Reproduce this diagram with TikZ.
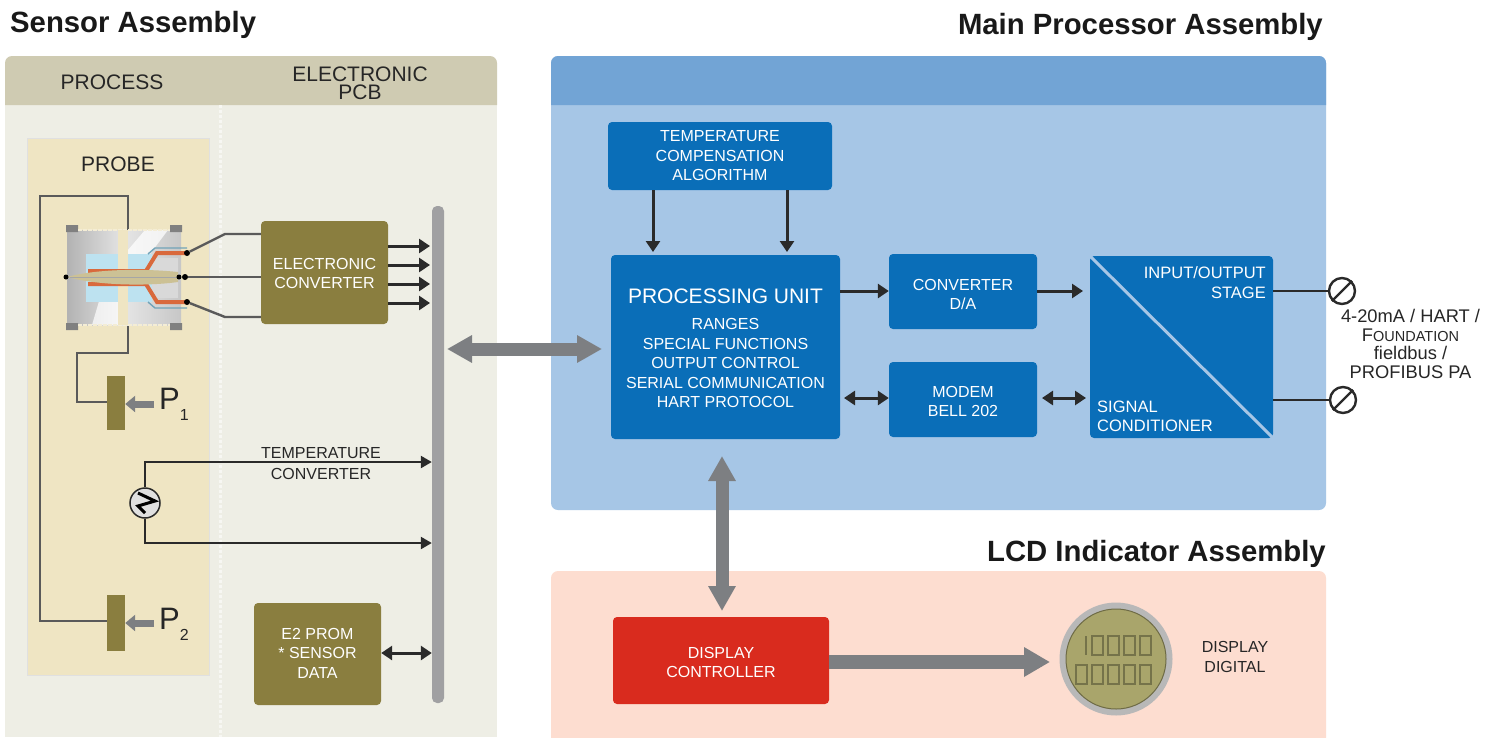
\documentclass[tikz,border=0pt]{standalone}
\usepackage{fontspec}
\setmainfont{Liberation Sans}
\usetikzlibrary{arrows.meta,calc}
\definecolor{hdrtan}{HTML}{CFCBB2}
\definecolor{sensbg}{HTML}{EEEEE5}
\definecolor{probebg}{HTML}{EFE5C3}
\definecolor{mainbg}{HTML}{A6C6E6}
\definecolor{mainhdr}{HTML}{72A4D5}
\definecolor{lcdbg}{HTML}{FDDDD0}
\definecolor{boxblue}{HTML}{0A6EB8}
\definecolor{olive}{HTML}{8A7E3F}
\definecolor{redbox}{HTML}{D92B1E}
\definecolor{busgray}{HTML}{A0A0A2}
\definecolor{biggray}{HTML}{7D7F82}
\definecolor{dark}{HTML}{2A2A2A}
\definecolor{tube}{HTML}{5A5A5A}
\definecolor{copper}{HTML}{D9693C}
\definecolor{lcdface}{HTML}{A9A56B}
\definecolor{lcdseg}{HTML}{75734A}
\newcommand{\fs}[2]{\fontsize{#1}{#2}\selectfont}
\tikzset{
  title/.style={font=\fs{29.3}{32}\bfseries,text=black!90,inner sep=0pt},
  hdr/.style={font=\fs{21}{18},text=black!85,align=center,inner sep=0pt},
  box/.style={rounded corners=4pt,inner sep=0pt,align=center,text=white,font=\fs{16}{19.5}},
  bluebox/.style={box,fill=boxblue},
  olivebox/.style={box,fill=olive},
  redbx/.style={box,fill=redbox},
  plain/.style={inner sep=0pt,align=center,text=black!85,font=\fs{16}{20}},
  whitetxt/.style={inner sep=0pt,text=white,font=\fs{16.5}{19.5}},
  arr/.style={draw=dark,line width=3pt,-{Triangle[length=11pt,width=14pt]}},
  thinarr/.style={draw=dark,line width=2.4pt,-{Triangle[length=11pt,width=12pt]}},
  darr/.style={draw=dark,line width=3pt,{Triangle[length=11pt,width=14pt]}-{Triangle[length=11pt,width=14pt]}},
  bigboth/.style={draw=biggray,line width=13pt,{Triangle[length=25pt,width=26pt]}-{Triangle[length=25pt,width=26pt]}},
  bigone/.style={draw=biggray,line width=14pt,-{Triangle[length=26pt,width=28pt]}},
  smallgray/.style={draw=biggray,line width=7pt,-{Triangle[length=10pt,width=16pt]}},
  tubeline/.style={draw=tube,line width=2.4pt},
  dot/.style={circle,fill=black,inner sep=0pt,minimum size=6pt},
  screw/.style={circle,draw=dark,line width=2.4pt,minimum size=26pt,inner sep=0pt},
  seg/.style={draw=lcdseg,line width=1.8pt},
}
\begin{document}
\begin{tikzpicture}[x=1pt,y=-1pt]
\useasboundingbox (0,0) rectangle (1496,737);
\fill[white] (0,0) rectangle (1496,737);
% panels
\fill[sensbg] (5,100) rectangle (497,737);
\fill[hdrtan] (5,105) [rounded corners=7pt] -- (5,56) -- (497,56) [sharp corners] -- (497,105) -- cycle;
\draw[white!55!sensbg,line width=3pt,dash pattern=on 3pt off 2pt] (220,105) -- (220,737);
\fill[mainbg,rounded corners=7pt] (551,56) rectangle (1326,510);
\fill[mainhdr] (551,105) [rounded corners=7pt] -- (551,56) -- (1326,56) [sharp corners] -- (1326,105) -- cycle;
\fill[lcdbg,rounded corners=7pt] (551,571) -- (1326,571) -- (1326,760) -- (551,760) -- cycle;
\fill[probebg,draw=black!12,line width=0.8pt] (27,138) rectangle (209,675);
% titles
\node[title,anchor=west] (tsens) at (10,25) {Sensor Assembly};
\node[title,anchor=east] (tmain) at (1323,27) {Main Processor Assembly};
\node[title,anchor=east] (tlcd) at (1326,554) {LCD Indicator Assembly};
\node[hdr] (hproc) at (112,82) {PROCESS};
\node[hdr] (hpcb) at (360,83) {ELECTRONIC\\PCB};
\node[hdr] (hprobe) at (118,164) {PROBE};
% probe tubing (under the sensor)
\coordinate (st) at (128,232);
\coordinate (sb) at (128,323);
\node[fill=olive,minimum width=18pt,minimum height=54pt,inner sep=0pt] (p1) at (116,403) {};
\node[fill=olive,minimum width=18pt,minimum height=56pt,inner sep=0pt] (p2) at (116,623) {};
\draw[tubeline] (st) |- (40,196) |- (p2.west |- 0,621);
\draw[tubeline] (sb) |- (77,353) |- (p1.west |- 0,402);
% sensor cell
\shade[left color=black!30,right color=black!22,middle color=black!10] (67,230) rectangle (181,325);
\fill[white,opacity=.7] (92,325) -- (118,325) -- (118,298) -- (100,298) -- cycle;
\fill[white,opacity=.75] (128,254) -- (150,254) -- (168,230) -- (145,230) -- (128,250) -- cycle;
\fill[black!50] (66,225) rectangle (78,232) (170,225) rectangle (182,232) (66,323) rectangle (78,330) (170,323) rectangle (182,330);
\draw[probebg!70!white,line width=2.5pt,dash pattern=on 4pt off 1pt] (78,230) -- (170,230) (78,325) -- (170,325);
\fill[black!15] (152,258) rectangle (178,298);
\fill[cyan!25!white!90!gray] (86,254) rectangle (152,302);
\draw[cyan!40!gray,line width=1.4pt] (148,254) -- (155,248) -- (187,248) (148,302) -- (155,308) -- (187,308);
\fill[probebg] (118,230) rectangle (128,325);
\draw[copper,line width=4pt] (187,253) -- (157,253) -- (146,271) -- (88,271);
\draw[copper,line width=4pt] (187,302) -- (157,302) -- (146,284) -- (88,284);
\fill[olive!35!probebg] (67,277) .. controls (100,268) and (150,269) .. (178,272) -- (178,282) .. controls (150,286) and (100,286) .. (67,277) -- cycle;
\draw[black!35,line width=1pt] (70,277) -- (178,277);
\node[dot] (d1) at (187,253) {};
\node[dot] (d2) at (185,277) {};
\node[dot] (d3) at (187,302) {};
\node[dot,minimum size=5pt] (d0) at (66,277) {};
\node[dot,minimum size=5pt] (d4) at (179,277) {};
% boxes
\node[olivebox,minimum width=127pt,minimum height=103pt] (ec) at (324.5,272.5) {ELECTRONIC\\CONVERTER\vspace{-2pt}};
\node[olivebox,minimum width=127pt,minimum height=102pt] (e2) at (317.5,654) {E2 PROM\\* SENSOR\\DATA\vspace{2pt}};
\node[fill=busgray,rounded corners=5pt,minimum width=12pt,minimum height=497pt,inner sep=0pt] (bus) at (438,454.5) {};
\node[bluebox,minimum width=224pt,minimum height=68pt] (temp) at (720,156) {TEMPERATURE\\COMPENSATION\\ALGORITHM};
\node[bluebox,minimum width=229pt,minimum height=184pt] (pu) at (725.5,347) {{\fs{21}{24}PROCESSING UNIT}\\[7pt]RANGES\\SPECIAL FUNCTIONS\\OUTPUT CONTROL\\SERIAL COMMUNICATION\\HART PROTOCOL\vspace{-2pt}};
\node[bluebox,minimum width=148pt,minimum height=75pt] (conv) at (963,291.5) {CONVERTER\\D/A\vspace{-6pt}};
\node[bluebox,minimum width=148pt,minimum height=75pt] (modem) at (963,399.5) {MODEM\\BELL 202\vspace{-4pt}};
\node[bluebox,minimum width=183pt,minimum height=182pt] (io) at (1181.5,347) {};
\draw[mainbg,line width=3pt] (io.north west) -- (io.south east);
\node[whitetxt,anchor=east,align=right] (iolbl) at (1266,282.5) {INPUT/OUTPUT\\STAGE};
\node[whitetxt,anchor=west,align=left] (siglbl) at (1097,416.5) {SIGNAL\\CONDITIONER};
\node[redbx,minimum width=216pt,minimum height=87pt] (disp) at (721,660.5) {DISPLAY\\CONTROLLER\vspace{-4pt}};
% gauge
\node[circle,fill=black!28,minimum size=113pt,inner sep=0pt] (lcd) at (1116,659) {};
\node[circle,fill=lcdface,draw=lcdface!65!black,line width=1pt,minimum size=100pt,inner sep=0pt] (face) at (1116,659) {};
\foreach \x in {1092,1108,1124,1140}{\draw[seg] (\x,636) rectangle +(11,19);}
\draw[seg] (1086,636) -- (1086,655);
\foreach \x in {1076,1092,1108,1124,1140}{\draw[seg] (\x,665) rectangle +(11,19);}
\node[plain] (dlbl) at (1235,657) {DISPLAY\\DIGITAL};
% P labels
\node[inner sep=0pt,anchor=west,font=\fs{31}{32},text=black!85] (lp1) at (159,404) {P\raisebox{-11pt}{\fs{16}{16}1}};
\node[inner sep=0pt,anchor=west,font=\fs{31}{32},text=black!85] (lp2) at (159,624) {P\raisebox{-11pt}{\fs{16}{16}2}};
\coordinate (a1) at (154,404);
\coordinate (a2) at (154,623);
\draw[smallgray] (a1) -- (p1.east |- a1);
\draw[smallgray] (a2) -- (p2.east |- a2);
% wires to converter
\draw[tubeline] (d1) -- (225,234) -- (ec.west |- 0,234);
\draw[tubeline] (d2) -- (ec.west |- d2);
\draw[tubeline] (d3) -- (225,317) -- (ec.west |- 0,317);
% converter to bus
\foreach \y in {246,265,284,303}{\draw[arr] (ec.east |- 0,\y) -- (430,\y);}
% temperature
\node[circle,draw=dark,line width=1.5pt,fill=black!12,minimum size=30pt,inner sep=0pt] (rtd) at (145,503) {};
\draw[thinarr] (rtd.north) |- (bus.west |- 0,462);
\draw[thinarr] (rtd.south) |- (bus.west |- 0,543);
\draw[black,line width=3pt,line join=miter] (138,493) -- (155,501) -- (138,506) -- (145,513);
\node[plain] (tc) at (321,463.5) {TEMPERATURE\\[1pt]CONVERTER};
\draw[darr] (e2.east |- 0,653) -- (bus.west |- 0,653);
% main connectors
\draw[arr] (temp.south -| 653,0) -- (653,252);
\draw[arr] (temp.south -| 787,0) -- (787,252);
\draw[arr] (pu.east |- 0,291) -- (conv.west |- 0,291);
\draw[arr] (conv.east |- 0,291) -- (1083,291);
\draw[darr] (844,398) -- (conv.west |- 0,398);
\draw[darr] (1042,398) -- (1086,398);
\node[screw] (s1) at (1342,291) {};
\node[screw] (s2) at (1343,400) {};
\draw[dark,line width=2.2pt] (s1.south west) -- (s1.north east) (s2.south west) -- (s2.north east);
\draw[dark,line width=2.6pt] (io.east |- s1) -- (s1);
\draw[dark,line width=2.6pt] (io.east |- s2) -- (s2);
\node[inner sep=0pt,align=center,text=black!85,font=\fs{18.3}{18.7}] (out) at (1410.5,344) {4-20mA / HART /\\F{\fs{14.5}{18.7}OUNDATION}\\fieldbus /\\PROFIBUS PA};
% big arrows
\coordinate (g1) at (447,349);
\coordinate (g2) at (602,349);
\coordinate (g3) at (722,456);
\coordinate (g4) at (722,611);
\coordinate (g5) at (1050,662);
\draw[bigboth] (g1) -- (g2);
\draw[bigboth] (g3) -- (g4);
\draw[bigone] (disp.east |- g5) -- (g5);
\end{tikzpicture}
\end{document}
